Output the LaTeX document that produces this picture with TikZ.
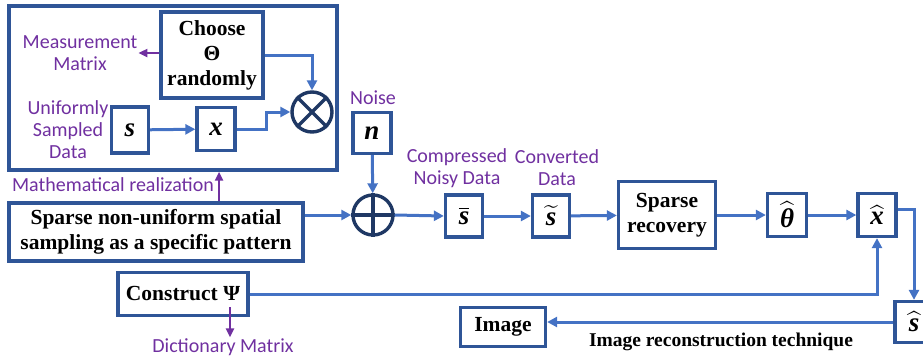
\documentclass[tikz,border=0pt]{standalone}
\usepackage{amsmath}
\usepackage{fontspec}
\setmainfont{Liberation Serif}
\newfontfamily\lblfont{Carlito}
\usetikzlibrary{arrows.meta}

\definecolor{boxblue}{HTML}{2F5597}
\definecolor{arrowblue}{HTML}{4472C4}
\definecolor{opnavy}{HTML}{1F3864}
\definecolor{lblpurple}{HTML}{7030A0}

% bold italic letter for the signal boxes
\newcommand{\bsym}[1]{\text{\bfseries\itshape #1}}

\begin{document}
\begin{tikzpicture}[x=1pt,y=-1pt,
    blk/.style={draw=boxblue,line width=3.3pt,fill=white,inner sep=0pt,align=center,
      font=\bfseries\fontsize{21.5}{25}\selectfont},
    sym/.style={blk,font=\fontsize{27}{29}\selectfont},
    lbl/.style={text=lblpurple,inner sep=1pt,align=center,
      font=\lblfont\fontsize{20}{22}\selectfont},
    flow/.style={draw=arrowblue,line width=3pt,-{Triangle[length=10pt,width=10pt]}},
    note/.style={draw=lblpurple,line width=2.5pt,-{Triangle[length=9pt,width=8pt]}},
    op/.style={circle,draw=opnavy,line width=3.4pt,minimum size=40pt,inner sep=0pt}]
    \useasboundingbox (0,0) rectangle (923,359);

    % frame of the mathematical realization
    \node[draw=boxblue,line width=3.3pt,minimum width=328pt,minimum height=164pt] (realbox) at (173,88) {};
    \node[blk,minimum width=102pt,minimum height=86pt] (choose) at (212,55) {Choose\\Θ\\randomly};
    \node[lbl] (meas) at (80,53) {Measurement\\Matrix};
    \node[lbl] (unif) at (68,130) {Uniformly\\Sampled\\Data};
    \node[sym,minimum width=37pt,minimum height=46pt] (sbox) at (130,130) {$\bsym{s}$};
    \node[sym,minimum width=38pt,minimum height=43pt] (xbox) at (216,129) {$\bsym{x}$};
    \node[op] (mult) at (312,112) {};
    \draw[opnavy,line width=3.4pt] (mult.north east) -- (mult.south west) (mult.north west) -- (mult.south east);

    \draw[note] (choose.west |- meas.east) -- (meas.east);
    \draw[flow] (sbox) -- (xbox);
    \draw[flow] (xbox.east) -- ++(30,0) |- (mult.west);
    \draw[flow] (choose.east) -| (mult.north);

    % sampling pattern and noise
    \node[lbl] (realtxt) at (113,185) {Mathematical realization};
    \node[blk,minimum width=294pt,minimum height=58pt] (pattern) at (156,232) {Sparse non-uniform spatial\\sampling as a specific pattern};
    \draw[note] ([xshift=4pt]realtxt.east |- pattern.north) -- ([xshift=4pt]realtxt.east |- realbox.south);

    \node[op] (add) at (373,215) {};
    \draw[opnavy,line width=3.4pt] (add.north) -- (add.south) (add.west) -- (add.east);
    \node[sym,minimum width=38pt,minimum height=41pt] (nbox) at (372,133) {$\bsym{n}$};
    \node[lbl] (noise) at (373,98) {Noise};

    \draw[flow] (pattern.east |- add) -- (add.west);
    \draw[flow] (nbox) -- (add);

    % recovery chain
    \node[sym,minimum width=37pt,minimum height=42pt] (sbar) at (464,216) {$\overline{\bsym{s}}$};
    \node[lbl] (cnd) at (457,168) {Compressed\\Noisy Data};
    \node[sym,minimum width=37pt,minimum height=42pt] (stilde) at (551,216) {$\widetilde{\bsym{s}}$};
    \node[lbl] (conv) at (557,168) {Converted\\Data};
    \node[blk,minimum width=97pt,minimum height=67pt] (recov) at (667,215) {Sparse\\recovery};
    \node[sym,minimum width=39pt,minimum height=43pt] (thhat) at (787,215) {$\widehat{\bsym{θ}}$};
    \node[sym,minimum width=38pt,minimum height=43pt] (xhat) at (877,215) {$\widehat{\bsym{x}}$};
    \node[sym,minimum width=38pt,minimum height=41pt] (shat) at (914,322) {$\widehat{\bsym{s}}$};

    \draw[flow] (add.east) -- (sbar.west);
    \draw[flow] (sbar) -- (stilde);
    \draw[flow] (stilde) -- (recov);
    \draw[flow] (recov) -- (thhat);
    \draw[flow] (thhat) -- (xhat);
    \draw[flow] ([yshift=6pt]xhat.east) -| (shat.north);

    % dictionary and image
    \node[blk,minimum width=130pt,minimum height=43pt] (psi) at (183,294) {Construct Ψ};
    \node[lbl] (dict) at (223,347) {Dictionary Matrix};
    \coordinate (psiout) at (230,307);
    \draw[note] (psiout) -- (dict.north -| psiout);
    \draw[flow] (psi.east) -| (xhat.south);

    \node[blk,minimum width=85pt,minimum height=39pt] (image) at (503,327) {Image};
    \node[font=\bfseries\fontsize{19.5}{23}\selectfont,inner sep=0pt] (recon) at (721,342) {Image reconstruction technique};
    \draw[flow] (shat.west) -- (image.east |- shat.west);
\end{tikzpicture}
\end{document}
